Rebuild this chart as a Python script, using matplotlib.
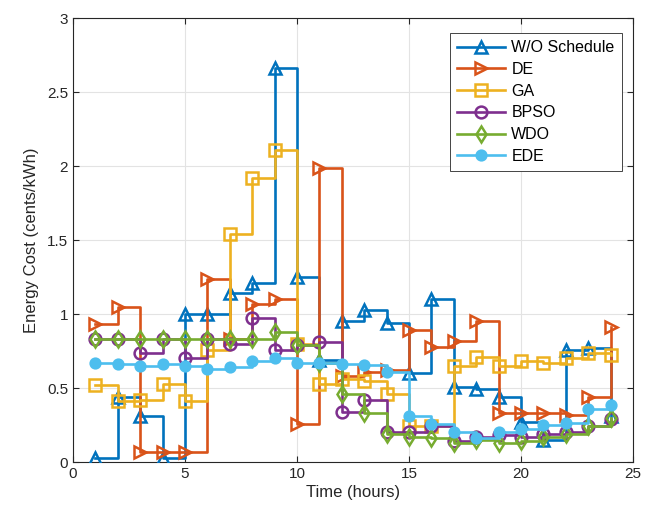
import matplotlib
matplotlib.use("Agg")
import matplotlib.pyplot as plt
import numpy as np

plt.rcParams['font.family'] = ['Liberation Sans', 'DejaVu Sans']

hours = list(range(1, 25))

wo_schedule = [0.03, 0.44, 0.31, 0.03, 1.00, 1.00, 1.14, 1.21, 2.66, 1.25, 0.69, 0.95,
               1.03, 0.94, 0.60, 1.10, 0.51, 0.49, 0.44, 0.27, 0.15, 0.76, 0.77, 0.31]
de = [0.93, 1.05, 0.07, 0.07, 0.07, 1.24, 0.83, 1.07, 1.10, 0.26, 1.99, 0.58,
      0.61, 0.62, 0.89, 0.78, 0.82, 0.95, 0.33, 0.33, 0.33, 0.32, 0.44, 0.91]
ga = [0.52, 0.41, 0.42, 0.53, 0.41, 0.76, 1.54, 1.92, 2.11, 0.80, 0.53, 0.56,
      0.55, 0.46, 0.24, 0.24, 0.65, 0.71, 0.65, 0.68, 0.67, 0.70, 0.74, 0.72]
bpso = [0.83, 0.83, 0.74, 0.83, 0.70, 0.83, 0.80, 0.97, 0.76, 0.79, 0.81, 0.34,
        0.42, 0.20, 0.20, 0.24, 0.14, 0.17, 0.18, 0.17, 0.19, 0.20, 0.24, 0.29]
wdo = [0.83, 0.83, 0.83, 0.83, 0.83, 0.83, 0.83, 0.83, 0.88, 0.79, 0.67, 0.46,
       0.33, 0.19, 0.17, 0.16, 0.13, 0.15, 0.13, 0.14, 0.17, 0.19, 0.24, 0.30]
ede = [0.67, 0.66, 0.65, 0.66, 0.65, 0.63, 0.64, 0.68, 0.70, 0.67, 0.67, 0.66,
       0.655, 0.61, 0.31, 0.26, 0.20, 0.16, 0.20, 0.22, 0.25, 0.265, 0.36, 0.385]

series = [
    ("W/O Schedule", wo_schedule, "#0072BD", "^", False),
    ("DE", de, "#D95319", ">", False),
    ("GA", ga, "#EDB120", "s", False),
    ("BPSO", bpso, "#7E2F8E", "o", False),
    ("WDO", wdo, "#77AC30", "d", False),
    ("EDE", ede, "#4DBEEE", "o", True),
]

fig = plt.figure(figsize=(6.48, 5.15), dpi=100)
ax = fig.add_axes([0.1127, 0.1029, 0.8642, 0.862])

for i, (name, vals, color, marker, filled) in enumerate(series):
    ax.step(hours, vals, where='post', color=color, linewidth=1.9,
            marker=marker, markersize=8.5 if not filled else 7,
            markerfacecolor=color if filled else 'none',
            markeredgecolor=color, markeredgewidth=1.8,
            label=name, zorder=3 + i)

ax.set_xlim(0, 25)
ax.set_ylim(0, 3)
ax.set_xticks(np.arange(0, 26, 5))
ax.set_yticks(np.arange(0, 3.01, 0.5))
ax.set_yticklabels(['0', '0.5', '1', '1.5', '2', '2.5', '3'])
ax.grid(True, color='#e3e3e3', linewidth=0.8)
ax.set_axisbelow(True)
ax.tick_params(direction='in', length=4, width=0.8, labelsize=11, colors='#262626',
               top=True, right=True)
for sp in ax.spines.values():
    sp.set_color('#262626')
    sp.set_linewidth(0.8)

ax.set_xlabel('Time (hours)', fontsize=12, color='#262626', labelpad=3)
ax.set_ylabel('Energy Cost (cents/kWh)', fontsize=12, color='#262626', labelpad=6)

leg = ax.legend(loc='upper right', bbox_to_anchor=(0.980, 0.966), borderaxespad=0,
                fontsize=11.5, fancybox=False, framealpha=1, edgecolor='#262626',
                handlelength=3.0, borderpad=0.45, labelspacing=0.42,
                handletextpad=0.4)
leg.get_frame().set_linewidth(0.6)

fig.savefig('out.png', dpi=100)
